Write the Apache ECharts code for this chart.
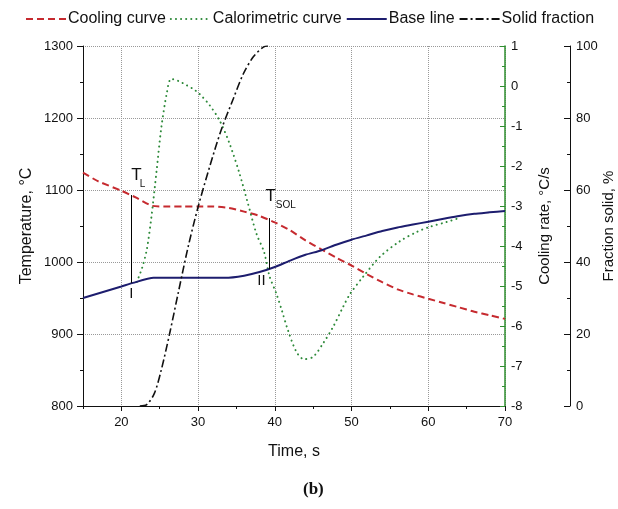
<!DOCTYPE html>
<html><head><meta charset="utf-8">
<script src="https://cdn.jsdelivr.net/npm/echarts@6/dist/echarts.min.js"></script>
<style>html,body{margin:0;padding:0;background:#fff}#c{width:618px;height:509px}</style>
</head><body><div id="c"></div>
<script>
// ---- data ----
const coolingTime = [15, 17, 20, 22, 24, 26, 28, 30, 32, 34, 36, 38, 40, 42, 44, 46, 48, 50, 52, 54, 56, 58, 60, 62, 64, 66, 68, 70];
const coolingTemp = [1124, 1112, 1099, 1089, 1078, 1077, 1077, 1077, 1077, 1075, 1070, 1064, 1055, 1044, 1030, 1018, 1006, 995, 983, 972, 962, 955, 949, 943, 937, 931, 926, 921];

const baseTime = [15, 20, 21.5, 24.2, 33.5, 36, 38, 40, 42, 44, 46, 48, 50, 52, 54, 56, 58, 60, 62, 64, 66, 68, 70];
const baseTemp = [950, 966, 971, 978, 978, 981, 986, 993, 1002, 1010, 1016, 1024, 1031, 1037, 1043, 1048, 1052, 1056, 1060, 1064, 1067, 1069, 1071];

const caloTime = [22.0, 22.7, 23.3, 23.9, 24.6, 25.2, 25.9, 26.5, 27.5, 28.5, 29.4, 30.2, 31.5, 32.8, 34.1, 35.4, 36.5, 37.6, 38.6, 39.3, 40.2, 40.9, 41.7, 42.8, 43.8, 45.0, 46.3, 47.6, 48.9, 49.8, 51.5, 53.7, 56.3, 58.5, 60.2, 62.4, 64.0];
const caloRate = [-4.9, -4.55, -4.1, -3.3, -2.1, -1.05, -0.2, 0.18, 0.12, 0.02, -0.08, -0.2, -0.48, -0.86, -1.44, -2.19, -2.94, -3.69, -4.15, -4.75, -5.19, -5.6, -6.1, -6.64, -6.83, -6.77, -6.43, -6.02, -5.52, -5.2, -4.77, -4.27, -3.88, -3.65, -3.52, -3.40, -3.30];

const fracTime = [22.4, 23.3, 24.3, 25.2, 26.3, 27.4, 28.7, 30.0, 31.5, 33.0, 34.6, 35.9, 37.2, 38.5, 39.1];
const fracSolid = [0, 0.4, 3.5, 10, 20.2, 31.3, 44.2, 55.3, 66.4, 76.6, 85.4, 92.3, 97, 99.7, 100];

const seriesNames = ['Cooling curve', 'Calorimetric curve', 'Base line', 'Solid fraction'];

// characteristic points (time, temperature)
const liquidusLine = [[21.3, 1093], [21.3, 971]];
const solidusLine = [[39.25, 1061], [39.25, 990]];
const textMarks = [
  {coord: [21.96, 1121], text: 'T', size: 17},
  {coord: [22.75, 1107.5], text: 'L', size: 10},
  {coord: [21.3, 956], text: 'I', size: 15},
  {coord: [39.47, 1090.7], text: 'T', size: 17},
  {coord: [41.43, 1078.8], text: 'SOL', size: 10},
  {coord: [38.26, 973.4], text: 'II', size: 15}
];

const xTicks = {min: 15, max: 70};
const tempAxis = {min: 800, max: 1300, interval: 100};
const rateAxis = {min: -8, max: 1, interval: 1};
const fracAxis = {min: 0, max: 100, interval: 20};

// ---- chart ----
const pair = (xs, ys) => xs.map((x, i) => [x, ys[i]]);
const FONT = '"Liberation Sans", Arial, sans-serif';
const chart = echarts.init(document.getElementById('c'), null, {renderer: 'canvas'});

const plain = v => String(v);
const labelStyle = {color: '#111', fontSize: 13, fontFamily: FONT, formatter: plain};
const nameStyle = {color: '#111', fontSize: 15, fontFamily: FONT};

chart.setOption({
  animation: false,
  backgroundColor: '#fff',
  textStyle: {fontFamily: FONT},
  legend: {
    top: 6, left: 20,
    itemWidth: 40, itemHeight: 10, itemGap: 4,
    itemStyle: {opacity: 0},
    textStyle: {fontSize: 16, color: '#111', fontFamily: FONT, padding: [0, 0, 0, -3]},
    data: seriesNames
  },
  grid: {left: 83, right: 113, top: 46, bottom: 103, containLabel: false, outerBoundsMode: 'none'},
  xAxis: [{
    type: 'value', min: xTicks.min, max: xTicks.max, splitNumber: 5,
    position: 'bottom',
    name: 'Time, s', nameLocation: 'middle', nameGap: 38, nameMoveOverlap: false, nameTextStyle: Object.assign({}, nameStyle, {fontSize: 16}),
    axisLine: {show: true, onZero: false, lineStyle: {color: '#111', width: 1}},
    axisTick: {show: true, length: 5, lineStyle: {color: '#111'}},
    axisLabel: {showMinLabel: false, margin: 10, ...labelStyle},
    splitLine: {show: true, lineStyle: {type: 'dotted', color: '#999', width: 1}}
  }, {
    type: 'value', min: xTicks.min, max: xTicks.max, interval: 5,
    position: 'bottom',
    axisLine: {show: false, onZero: false},
    axisTick: {show: true, length: 3, lineStyle: {color: '#111'}},
    axisLabel: {show: false},
    splitLine: {show: false}
  }],
  yAxis: [{
    type: 'value', position: 'left', ...tempAxis,
    name: 'Temperature, °C', nameLocation: 'middle', nameGap: 48, nameMoveOverlap: false, nameTextStyle: Object.assign({}, nameStyle, {fontSize: 16}),
    axisLine: {show: true, onZero: false, lineStyle: {color: '#111', width: 1}},
    axisTick: {show: true, length: 6, lineStyle: {color: '#111'}},
    minorTick: {show: true, splitNumber: 2, length: 3, lineStyle: {color: '#111'}},
    axisLabel: {margin: 10, ...labelStyle},
    splitLine: {show: true, lineStyle: {type: 'dotted', color: '#999', width: 1}}
  }, {
    type: 'value', position: 'right', ...rateAxis,
    name: 'Cooling rate, °C/s', nameLocation: 'middle', nameGap: 32, nameMoveOverlap: false, nameTextStyle: nameStyle,
    axisLine: {show: true, onZero: false, lineStyle: {color: '#2f8f2f', width: 1.5}},
    axisTick: {show: true, inside: true, length: 5, lineStyle: {color: '#2f8f2f'}},
    minorTick: {show: true, splitNumber: 2, length: 3, lineStyle: {color: '#2f8f2f'}},
    axisLabel: {margin: 6, ...labelStyle},
    splitLine: {show: false}
  }, {
    type: 'value', position: 'right', offset: 65, ...fracAxis,
    name: 'Fraction solid, %', nameLocation: 'middle', nameGap: 31, nameMoveOverlap: false, nameTextStyle: nameStyle,
    axisLine: {show: true, onZero: false, lineStyle: {color: '#111', width: 1}},
    axisTick: {show: true, inside: true, length: 6, lineStyle: {color: '#111'}},
    minorTick: {show: true, splitNumber: 2, length: 3, lineStyle: {color: '#111'}},
    axisLabel: {margin: 6, ...labelStyle},
    splitLine: {show: false}
  }],
  series: [{
    name: seriesNames[0], type: 'line', yAxisIndex: 0, symbol: 'none', smooth: 0.2,
    data: pair(coolingTime, coolingTemp),
    lineStyle: {color: '#c62a2f', width: 2, type: [7, 4]},
    itemStyle: {color: '#c62a2f'}
  }, {
    name: seriesNames[1], type: 'line', yAxisIndex: 1, symbol: 'none', smooth: 0.3,
    data: pair(caloTime, caloRate),
    lineStyle: {color: '#2e8a3a', width: 2, type: [0.1, 5], cap: 'round'},
    itemStyle: {color: '#2e8a3a'}
  }, {
    name: seriesNames[2], type: 'line', yAxisIndex: 0, symbol: 'none', smooth: 0.2,
    data: pair(baseTime, baseTemp),
    lineStyle: {color: '#1d1d6e', width: 2},
    itemStyle: {color: '#1d1d6e'},
    markLine: {
      silent: true, symbol: ['none', 'none'], label: {show: false},
      lineStyle: {color: '#000', width: 1, type: 'solid'},
      data: [
        [{coord: liquidusLine[0]}, {coord: liquidusLine[1]}],
        [{coord: solidusLine[0]}, {coord: solidusLine[1]}]
      ]
    },
    markPoint: {
      silent: true,
      data: textMarks.map(m => ({
        coord: m.coord, symbol: 'circle', symbolSize: 1,
        itemStyle: {color: 'rgba(0,0,0,0)'},
        label: {show: true, position: 'inside', formatter: m.text, fontSize: m.size, color: '#111', fontFamily: FONT}
      }))
    }
  }, {
    name: seriesNames[3], type: 'line', yAxisIndex: 2, symbol: 'none', smooth: 0.3,
    data: pair(fracTime, fracSolid),
    lineStyle: {color: '#111', width: 1.6, type: [8, 3, 2, 3]},
    itemStyle: {color: '#111'}
  }],
  graphic: [{
    type: 'text', left: 303, top: 481,
    style: {text: '(b)', font: 'bold 17px "Liberation Serif", "DejaVu Serif", serif', fill: '#111'}
  }]
});
</script>
</body></html>
